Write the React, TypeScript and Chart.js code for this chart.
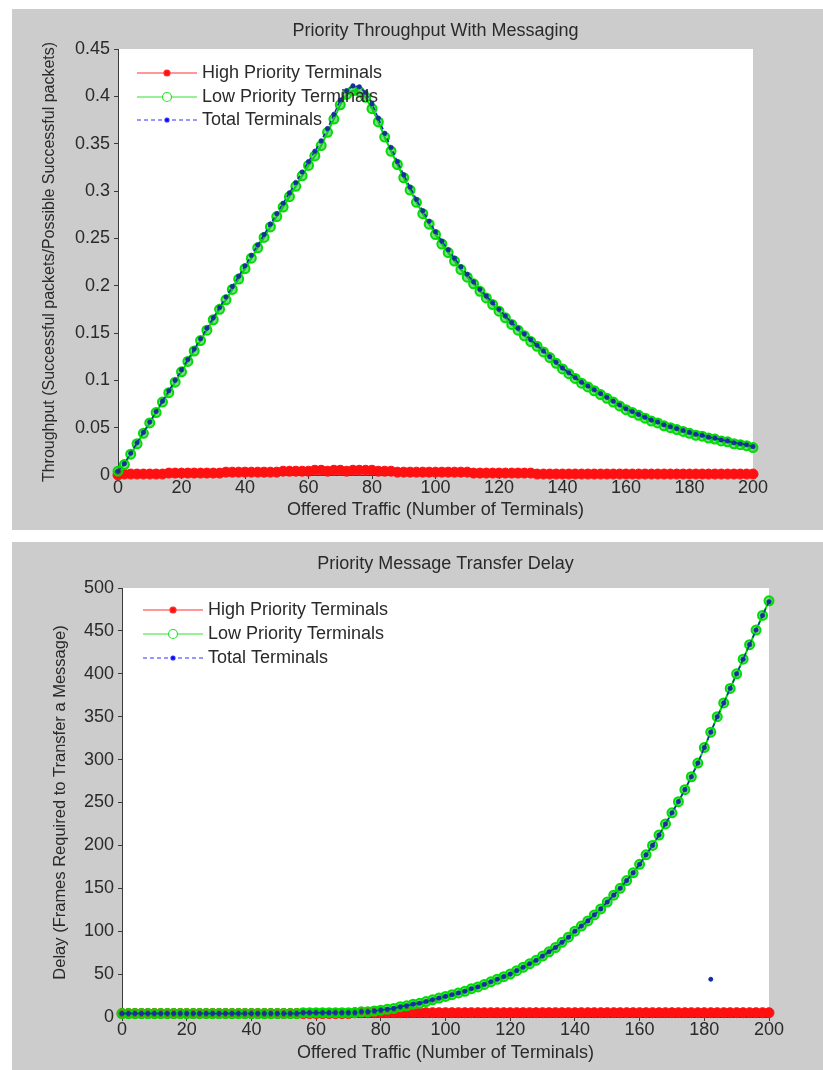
import React, { useEffect, useRef } from "react";
import { Chart, registerables } from "chart.js";

Chart.register(...registerables);

// ---------------- data ----------------
const offeredTraffic = [
  0, 2, 4, 6, 8, 10, 12, 14, 16, 18, 20, 22, 24, 26, 28, 30, 32, 34, 36, 38,
  40, 42, 44, 46, 48, 50, 52, 54, 56, 58, 60, 62, 64, 66, 68, 70, 72, 74, 76, 78,
  80, 82, 84, 86, 88, 90, 92, 94, 96, 98, 100, 102, 104, 106, 108, 110, 112, 114, 116, 118,
  120, 122, 124, 126, 128, 130, 132, 134, 136, 138, 140, 142, 144, 146, 148, 150, 152, 154, 156, 158,
  160, 162, 164, 166, 168, 170, 172, 174, 176, 178, 180, 182, 184, 186, 188, 190, 192, 194, 196, 198,
  200,
];

const seriesLabels = ["High Priority Terminals", "Low Priority Terminals", "Total Terminals"];

const throughputHigh = [
  0.0, 0.001, 0.001, 0.001, 0.001, 0.001, 0.001, 0.001,
  0.002, 0.002, 0.002, 0.002, 0.002, 0.002, 0.002, 0.002, 0.002,
  0.003, 0.003, 0.003, 0.003, 0.003, 0.003, 0.003, 0.003, 0.003,
  0.004, 0.004, 0.004, 0.004, 0.004,
  0.005, 0.005, 0.004, 0.005, 0.005, 0.004, 0.005, 0.005, 0.005, 0.005,
  0.004, 0.004, 0.004,
  0.003, 0.003, 0.003, 0.003, 0.003, 0.003, 0.003, 0.003, 0.003, 0.003, 0.003, 0.003,
  0.002, 0.002, 0.002, 0.002, 0.002, 0.002, 0.002, 0.002, 0.002, 0.002,
  0.001, 0.001, 0.001, 0.001, 0.001, 0.001, 0.001, 0.001, 0.001, 0.001,
  0.001, 0.001, 0.001, 0.001, 0.001, 0.001, 0.001, 0.001, 0.001, 0.001,
  0.001, 0.001, 0.001, 0.001, 0.001, 0.001, 0.001, 0.001, 0.001, 0.001,
  0.001, 0.001, 0.001, 0.001, 0.001,
];

const throughputLow = [
  0.004, 0.011, 0.022, 0.033, 0.044, 0.055, 0.066, 0.077, 0.087, 0.098,
  0.109, 0.12, 0.131, 0.142, 0.153, 0.164, 0.175, 0.185, 0.196, 0.207,
  0.218, 0.229, 0.24, 0.251, 0.262, 0.273, 0.283, 0.294, 0.305, 0.316,
  0.327, 0.337, 0.348, 0.362, 0.376, 0.391, 0.402, 0.406, 0.405, 0.399,
  0.387, 0.373, 0.357, 0.342, 0.328, 0.314, 0.301, 0.288, 0.276, 0.265,
  0.254, 0.244, 0.235, 0.226, 0.217, 0.209, 0.202, 0.194, 0.187, 0.18,
  0.173, 0.166, 0.159, 0.153, 0.147, 0.141, 0.136, 0.13, 0.124, 0.118,
  0.112, 0.107, 0.102, 0.097, 0.093, 0.089, 0.085, 0.081, 0.077, 0.073,
  0.069, 0.066, 0.063, 0.06, 0.057, 0.055, 0.052, 0.05, 0.048, 0.046,
  0.044, 0.042, 0.041, 0.039, 0.038, 0.036, 0.035, 0.033, 0.032, 0.031,
  0.029,
];

const throughputTotal = [
  0.004, 0.012, 0.023, 0.034, 0.045, 0.056, 0.067, 0.078, 0.089, 0.1,
  0.111, 0.122, 0.133, 0.144, 0.155, 0.166, 0.177, 0.188, 0.199, 0.21,
  0.221, 0.232, 0.243, 0.254, 0.265, 0.276, 0.287, 0.298, 0.309, 0.32,
  0.331, 0.342, 0.353, 0.366, 0.381, 0.396, 0.406, 0.411, 0.41, 0.404,
  0.392, 0.377, 0.361, 0.346, 0.331, 0.317, 0.304, 0.291, 0.279, 0.268,
  0.257, 0.247, 0.238, 0.229, 0.22, 0.212, 0.204, 0.196, 0.189, 0.182,
  0.175, 0.168, 0.161, 0.155, 0.149, 0.143, 0.137, 0.131, 0.125, 0.119,
  0.113, 0.108, 0.103, 0.098, 0.094, 0.09, 0.086, 0.082, 0.078, 0.074,
  0.07, 0.067, 0.064, 0.061, 0.058, 0.056, 0.053, 0.051, 0.049, 0.047,
  0.045, 0.043, 0.042, 0.04, 0.039, 0.037, 0.036, 0.034, 0.033, 0.032,
  0.03,
];

const delayHigh = [
  4, 4, 4, 4, 4, 4, 4, 4, 4, 4, 4, 4, 4, 4, 4, 4, 4, 4, 4, 4,
  4, 4, 4, 4, 4, 4, 4, 4, 4, 4, 4, 4, 4, 4, 4, 4, 5, 5, 5, 5,
  5, 5, 5, 5, 5, 5, 5, 5, 5, 5, 5, 5, 5, 5, 5, 5, 5, 5, 5, 5,
  5, 5, 5, 5, 5, 5, 5, 5, 5, 5, 5, 5, 5, 5, 5, 5, 5, 5, 5, 5,
  5, 5, 5, 5, 5, 5, 5, 5, 5, 5, 5, 5, 5, 5, 5, 5, 5, 5, 5, 5,
  5,
];

const delayLow = [
  4, 4, 4, 4, 4, 4, 4, 4, 4, 4, 4, 4, 4, 4, 4, 4, 4, 4, 4, 4,
  4, 4, 4, 4, 4, 4, 4, 4, 5, 5, 5, 5, 5, 5, 5, 5,
  5, 6, 6, 7, 8, 9, 10, 12, 13, 15, 16, 18, 20, 22,
  24, 26, 28, 30, 33, 35, 38, 41, 44, 47,
  50, 54, 58, 62, 66, 71, 76, 81, 87, 93,
  100, 106, 112, 119, 126, 134, 142, 150, 159, 168,
  178, 189, 200, 212, 225, 238, 251, 265, 280, 296,
  314, 332, 350, 366, 383, 400, 417, 434, 451, 468,
  485,
];

const delayTotal = [
  4, 4, 4, 4, 4, 4, 4, 4, 4, 4, 4, 4, 4, 4, 4, 4, 4, 4, 4, 4,
  4, 4, 4, 4, 4, 4, 4, 4, 5, 5, 5, 5, 5, 5, 5, 5,
  5, 6, 6, 7, 8, 9, 10, 12, 13, 15, 16, 18, 20, 22,
  24, 26, 28, 30, 33, 35, 38, 41, 44, 47,
  50, 54, 58, 62, 66, 71, 76, 81, 87, 93,
  100, 106, 112, 119, 126, 134, 142, 150, 159, 168,
  178, 189, 200, 212, 225, 238, 251, 265, 280, 296,
  314, 332, 350, 366, 383, 400, 417, 434, 451, 468,
  484,
];

const delayOutlierX = [182];
const delayOutlierY = [44];

const throughputTitle = "Priority Throughput With Messaging";
const delayTitle = "Priority Message Transfer Delay";
const xAxisTitle = "Offered Traffic (Number of Terminals)";
const throughputYTitle = "Throughput (Successful packets/Possible Successful packets)";
const delayYTitle = "Delay (Frames Required to Transfer a Message)";

// ---------------- styling ----------------
const FONT = "'Liberation Sans', Arial, Helvetica, sans-serif";
const TEXT = "#2a2a2a";
const AXIS = "#3a3a3a";
const RED = "#ff1010";
const GREEN = "#00dd00";
const GREEN_FILL = "rgba(20,190,40,0.55)";
const BLUE = "#0000ff";
const DOT_BLUE = "#15309a";

const toPoints = (xs: number[], ys: number[]) => xs.map((x, i) => ({ x, y: ys[i] }));

const plotBackground = {
  id: "plotBackground",
  beforeDraw(chart: any) {
    const { ctx, chartArea: a } = chart;
    ctx.save();
    ctx.fillStyle = "#ffffff";
    ctx.fillRect(a.left, a.top, a.right - a.left, a.bottom - a.top);
    ctx.restore();
  },
};

const panelTitle = {
  id: "panelTitle",
  afterDraw(chart: any, _args: any, opts: any) {
    const { ctx, chartArea: a } = chart;
    ctx.save();
    ctx.font = `${opts.size}px ${FONT}`;
    ctx.fillStyle = TEXT;
    ctx.textAlign = "center";
    ctx.textBaseline = "middle";
    ctx.fillText(opts.text, (a.left + a.right) / 2 + (opts.dx || 0), a.top - opts.offset);
    ctx.restore();
  },
};

const lineLegend = {
  id: "lineLegend",
  afterDatasetsDraw(chart: any, _args: any, opts: any) {
    const { ctx, chartArea: a } = chart;
    const items = chart.data.datasets.filter((d: any) => d.label);
    ctx.save();
    items.forEach((d: any, i: number) => {
      const y = a.top + opts.rows[i];
      const x0 = a.left + opts.x0;
      const x1 = a.left + opts.x1;
      ctx.strokeStyle = d.legendLine;
      ctx.lineWidth = 1;
      ctx.setLineDash(d.borderDash || []);
      ctx.beginPath();
      ctx.moveTo(x0, y);
      ctx.lineTo(x1, y);
      ctx.stroke();
      ctx.setLineDash([]);
      const mx = (x0 + x1) / 2;
      ctx.beginPath();
      ctx.arc(mx, y, d.legendRadius, 0, Math.PI * 2);
      ctx.fillStyle = d.legendFill;
      ctx.fill();
      ctx.strokeStyle = d.legendLine;
      ctx.lineWidth = 1.2;
      ctx.stroke();
      ctx.font = `${opts.size}px ${FONT}`;
      ctx.fillStyle = TEXT;
      ctx.textAlign = "left";
      ctx.textBaseline = "middle";
      ctx.fillText(d.label, a.left + opts.tx, y);
    });
    ctx.restore();
  },
};

type PanelCfg = {
  width: number;
  height: number;
  plotLeft: number;
  plotRight: number;
  plotTop: number;
  plotBottom: number;
  yMax: number;
  yStep: number;
  yTitle: string;
  yTitleSize: number;
  yTitlePad: number;
  xTitlePad: number;
  title: string;
  legend: any;
  datasets: any[];
};

function buildChart(canvas: HTMLCanvasElement, p: PanelCfg) {
  return new Chart(canvas, {
    type: "line",
    data: { datasets: p.datasets },
    options: {
      animation: false,
      responsive: false,
      devicePixelRatio: 1,
      layout: {
        padding: { left: 0, top: p.plotTop, right: p.width - p.plotRight, bottom: 0 },
      },
      plugins: {
        legend: { display: false },
        tooltip: { enabled: false },
        panelTitle: { text: p.title, size: 18, offset: p.plotTop - 22 },
        lineLegend: p.legend,
      } as any,
      scales: {
        x: {
          type: "linear",
          min: 0,
          max: 200,
          ticks: {
            stepSize: 20,
            color: TEXT,
            padding: 0,
            font: { family: FONT, size: 18, lineHeight: 1 },
          },
          grid: { display: true, drawOnChartArea: false, drawTicks: true, tickLength: 4, color: AXIS },
          border: { display: true, color: AXIS, width: 1 },
          title: {
            display: true,
            text: xAxisTitle,
            color: TEXT,
            font: { family: FONT, size: 18 },
            padding: { top: 0, bottom: p.xTitlePad },
          },
          afterFit: (s: any) => {
            s.height = p.height - p.plotBottom;
          },
        },
        y: {
          type: "linear",
          min: 0,
          max: p.yMax,
          ticks: {
            stepSize: p.yStep,
            color: TEXT,
            padding: 4,
            font: { family: FONT, size: 18, lineHeight: 1 },
            callback: (v: any) => String(Math.round(Number(v) * 100) / 100),
          },
          grid: { display: true, drawOnChartArea: false, drawTicks: true, tickLength: 4, color: AXIS },
          border: { display: true, color: AXIS, width: 1 },
          title: {
            display: true,
            text: p.yTitle,
            color: TEXT,
            font: { family: FONT, size: p.yTitleSize },
            padding: { top: p.yTitlePad, bottom: 0 },
          },
          afterFit: (s: any) => {
            s.width = p.plotLeft;
          },
        },
      },
    },
    plugins: [plotBackground, panelTitle, lineLegend],
  } as any);
}

function seriesSets(high: number[], low: number[], total: number[]) {
  return [
    {
      label: seriesLabels[0],
      data: toPoints(offeredTraffic, high),
      borderColor: RED,
      borderWidth: 1.5,
      pointRadius: 5,
      pointBackgroundColor: RED,
      pointBorderColor: RED,
      pointBorderWidth: 1,
      legendRadius: 3,
      legendFill: RED,
      legendLine: "#ff3030",
      order: 3,
      clip: 10,
    },
    {
      label: seriesLabels[1],
      data: toPoints(offeredTraffic, low),
      borderColor: GREEN,
      borderWidth: 2,
      pointRadius: 4.5,
      pointBackgroundColor: GREEN_FILL,
      pointBorderColor: GREEN,
      pointBorderWidth: 2,
      legendRadius: 4.5,
      legendFill: "#ffffff",
      legendLine: "#30e030",
      order: 2,
      clip: 10,
    },
    {
      label: seriesLabels[2],
      data: toPoints(offeredTraffic, total),
      borderColor: "#1030b0",
      borderWidth: 1.5,
      borderDash: [4, 3],
      pointRadius: 2.3,
      pointBackgroundColor: DOT_BLUE,
      pointBorderColor: DOT_BLUE,
      pointBorderWidth: 0.5,
      legendRadius: 2,
      legendFill: BLUE,
      legendLine: "#3030ff",
      order: 1,
      clip: 10,
    },
  ];
}

const PANEL_W = 811;
const TOP_H = 521;
const BOT_H = 528;

export default function App() {
  const topRef = useRef<HTMLCanvasElement>(null);
  const botRef = useRef<HTMLCanvasElement>(null);

  useEffect(() => {
    const c1 = buildChart(topRef.current!, {
      width: PANEL_W,
      height: TOP_H,
      plotLeft: 106,
      plotRight: 741,
      plotTop: 40,
      plotBottom: 466,
      yMax: 0.45,
      yStep: 0.05,
      yTitle: throughputYTitle,
      yTitleSize: 16,
      yTitlePad: 28,
      xTitlePad: 9,
      title: throughputTitle,
      legend: { x0: 19, x1: 79, tx: 84, rows: [24, 48, 71], size: 18 },
      datasets: seriesSets(throughputHigh, throughputLow, throughputTotal),
    });
    const outlier = {
      data: toPoints(delayOutlierX, delayOutlierY),
      showLine: false,
      pointRadius: 2,
      pointBackgroundColor: DOT_BLUE,
      pointBorderColor: DOT_BLUE,
      order: 0,
    };
    const c2 = buildChart(botRef.current!, {
      width: PANEL_W,
      height: BOT_H,
      plotLeft: 110,
      plotRight: 757,
      plotTop: 46,
      plotBottom: 475,
      yMax: 500,
      yStep: 50,
      yTitle: delayYTitle,
      yTitleSize: 16.5,
      yTitlePad: 39,
      xTitlePad: 6,
      title: delayTitle,
      legend: { x0: 21, x1: 81, tx: 86, rows: [22, 46, 70], size: 18 },
      datasets: [...seriesSets(delayHigh, delayLow, delayTotal), outlier],
    });
    return () => {
      c1.destroy();
      c2.destroy();
    };
  }, []);

  return (
    <div>
      <div
        style={{ position: "absolute", left: 12, top: 9, width: PANEL_W, height: TOP_H, background: "#cccccc" }}
      >
        <canvas ref={topRef} width={PANEL_W} height={TOP_H} style={{ display: "block" }} />
      </div>
      <div
        style={{ position: "absolute", left: 12, top: 542, width: PANEL_W, height: BOT_H, background: "#cccccc" }}
      >
        <canvas ref={botRef} width={PANEL_W} height={BOT_H} style={{ display: "block" }} />
      </div>
    </div>
  );
}
